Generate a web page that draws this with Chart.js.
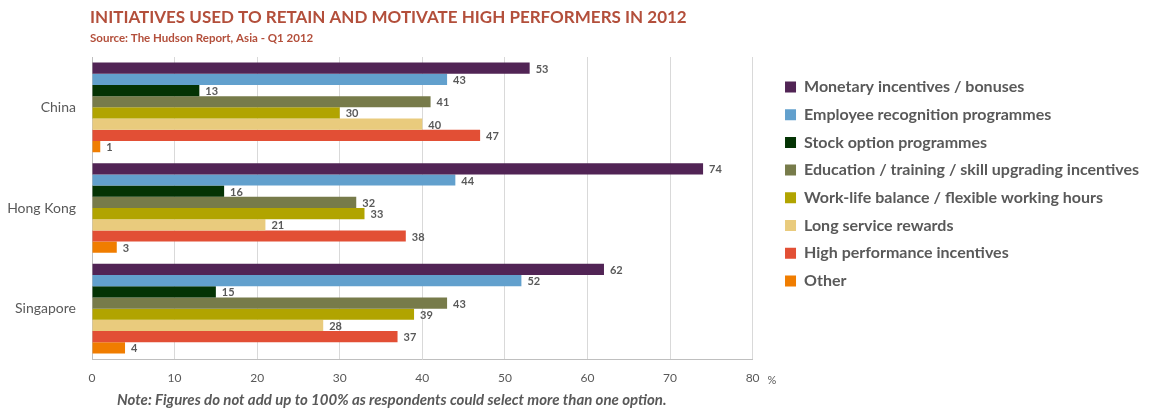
<!DOCTYPE html>
<html>
<head>
<meta charset="utf-8">
<script src="https://cdn.jsdelivr.net/npm/chart.js@4.4.1/dist/chart.umd.min.js"></script>
<style>
  html, body { margin: 0; padding: 0; background: #fff; }
  #wrap { width: 1149px; height: 409px; position: relative; }
</style>
</head>
<body>
<div id="wrap"><canvas id="chartBars"></canvas></div>
<script>
// categories and series
const countries = ["China", "Hong Kong", "Singapore"];
const seriesNames = [
    "Monetary incentives / bonuses",
    "Employee recognition programmes",
    "Stock option programmes",
    "Education / training / skill upgrading incentives",
    "Work-life balance / flexible working hours",
    "Long service rewards",
    "High performance incentives",
    "Other"
];
const monetary = [53, 74, 62];
const recognition = [43, 44, 52];
const stockOption = [13, 16, 15];
const education = [41, 32, 43];
const workLife = [30, 33, 39];
const longService = [40, 21, 28];
const highPerf = [47, 38, 37];
const other = [1, 3, 4];
const xTicks = [0, 10, 20, 30, 40, 50, 60, 70, 80];

const COLORS = ["#512455", "#62a0cd", "#043304", "#777b4a", "#b1a400", "#e9cb7d", "#e24f35", "#f07d00"];
const GREY = "#595959";
const FONT = "Lato";

var allSeries = [monetary, recognition, stockOption, education, workLife, longService, highPerf, other];
var datasets = [];
for (let i = 0; i < allSeries.length; i++) {
    datasets.push({
        label: seriesNames[i],
        data: allSeries[i],
        backgroundColor: COLORS[i],
        borderWidth: 0,
        categoryPercentage: 0.89,
        barPercentage: 1.0
    });
}

// titles, note, % sign and the value labels
const textPlugin = {
    id: "textPlugin",
    afterDatasetsDraw(chart) {
        const c = chart.ctx;
        c.save();
        c.font = "bold 11px " + FONT;
        c.fillStyle = GREY;
        c.textAlign = "left";
        c.textBaseline = "middle";
        chart.data.datasets.forEach(function(ds, di) {
            chart.getDatasetMeta(di).data.forEach(function(bar, i) {
                c.fillText(String(ds.data[i]), bar.x + 6, bar.y + 1);
            });
        });
        c.restore();
    },
    afterDraw(chart) {
        const c = chart.ctx;
        const area = chart.chartArea;
        c.save();
        c.textAlign = "left";
        c.textBaseline = "middle";
        c.fillStyle = "#b34f3b";
        c.font = "bold 17px " + FONT;
        c.fillText("INITIATIVES USED TO RETAIN AND MOTIVATE HIGH PERFORMERS IN 2012", 90, 18);
        c.font = "bold 11.5px " + FONT;
        c.fillText("Source: The Hudson Report, Asia - Q1 2012", 90, 38);
        c.fillStyle = GREY;
        c.font = "italic bold 15px " + FONT;
        c.fillText("Note: Figures do not add up to 100% as respondents could select more than one option.", 117, 400);
        c.font = "11px " + FONT;
        c.fillText("%", area.right + 15, area.bottom + 21);
        c.restore();
    }
};

var ctx = document.getElementById("chartBars").getContext("2d");
var chartBars = new Chart(ctx, {
    type: "bar",
    data: { labels: countries, datasets: datasets },
    options: {
        indexAxis: "y",
        responsive: true,
        maintainAspectRatio: false,
        animation: false,
        layout: { padding: { top: 57, bottom: 20, left: 0, right: 0 } },
        scales: {
            x: {
                min: 0,
                max: 80,
                afterBuildTicks: (s) => { s.ticks = xTicks.map(v => ({ value: v })); },
                afterFit: (s) => { s.height = 30; },
                grid: { color: "#d9d9d9", drawTicks: false },
                border: { color: "#bfbfbf" },
                ticks: { padding: 12, color: GREY, font: { family: FONT, size: 12 } }
            },
            y: {
                afterFit: (s) => { s.width = 92; },
                grid: { display: false, drawTicks: false },
                border: { display: true, color: "#bfbfbf" },
                ticks: { padding: 16, color: GREY, font: { family: FONT, size: 14 } }
            },
            y2: {
                type: "category",
                position: "right",
                afterFit: (s) => { s.width = 20.7; },
                grid: { display: false, drawTicks: false },
                border: { display: false },
                ticks: { display: false }
            }
        },
        plugins: {
            legend: {
                position: "right",
                align: "start",
                maxWidth: 420,
                title: { display: true, text: "", font: { size: 8.6 }, padding: 0 },
                labels: {
                    boxWidth: 11,
                    boxHeight: 11,
                    padding: 11.7,
                    color: GREY,
                    font: { family: FONT, size: 16, weight: "bold" }
                }
            },
            tooltip: { enabled: false }
        }
    },
    plugins: [textPlugin]
});
</script>
</body>
</html>
